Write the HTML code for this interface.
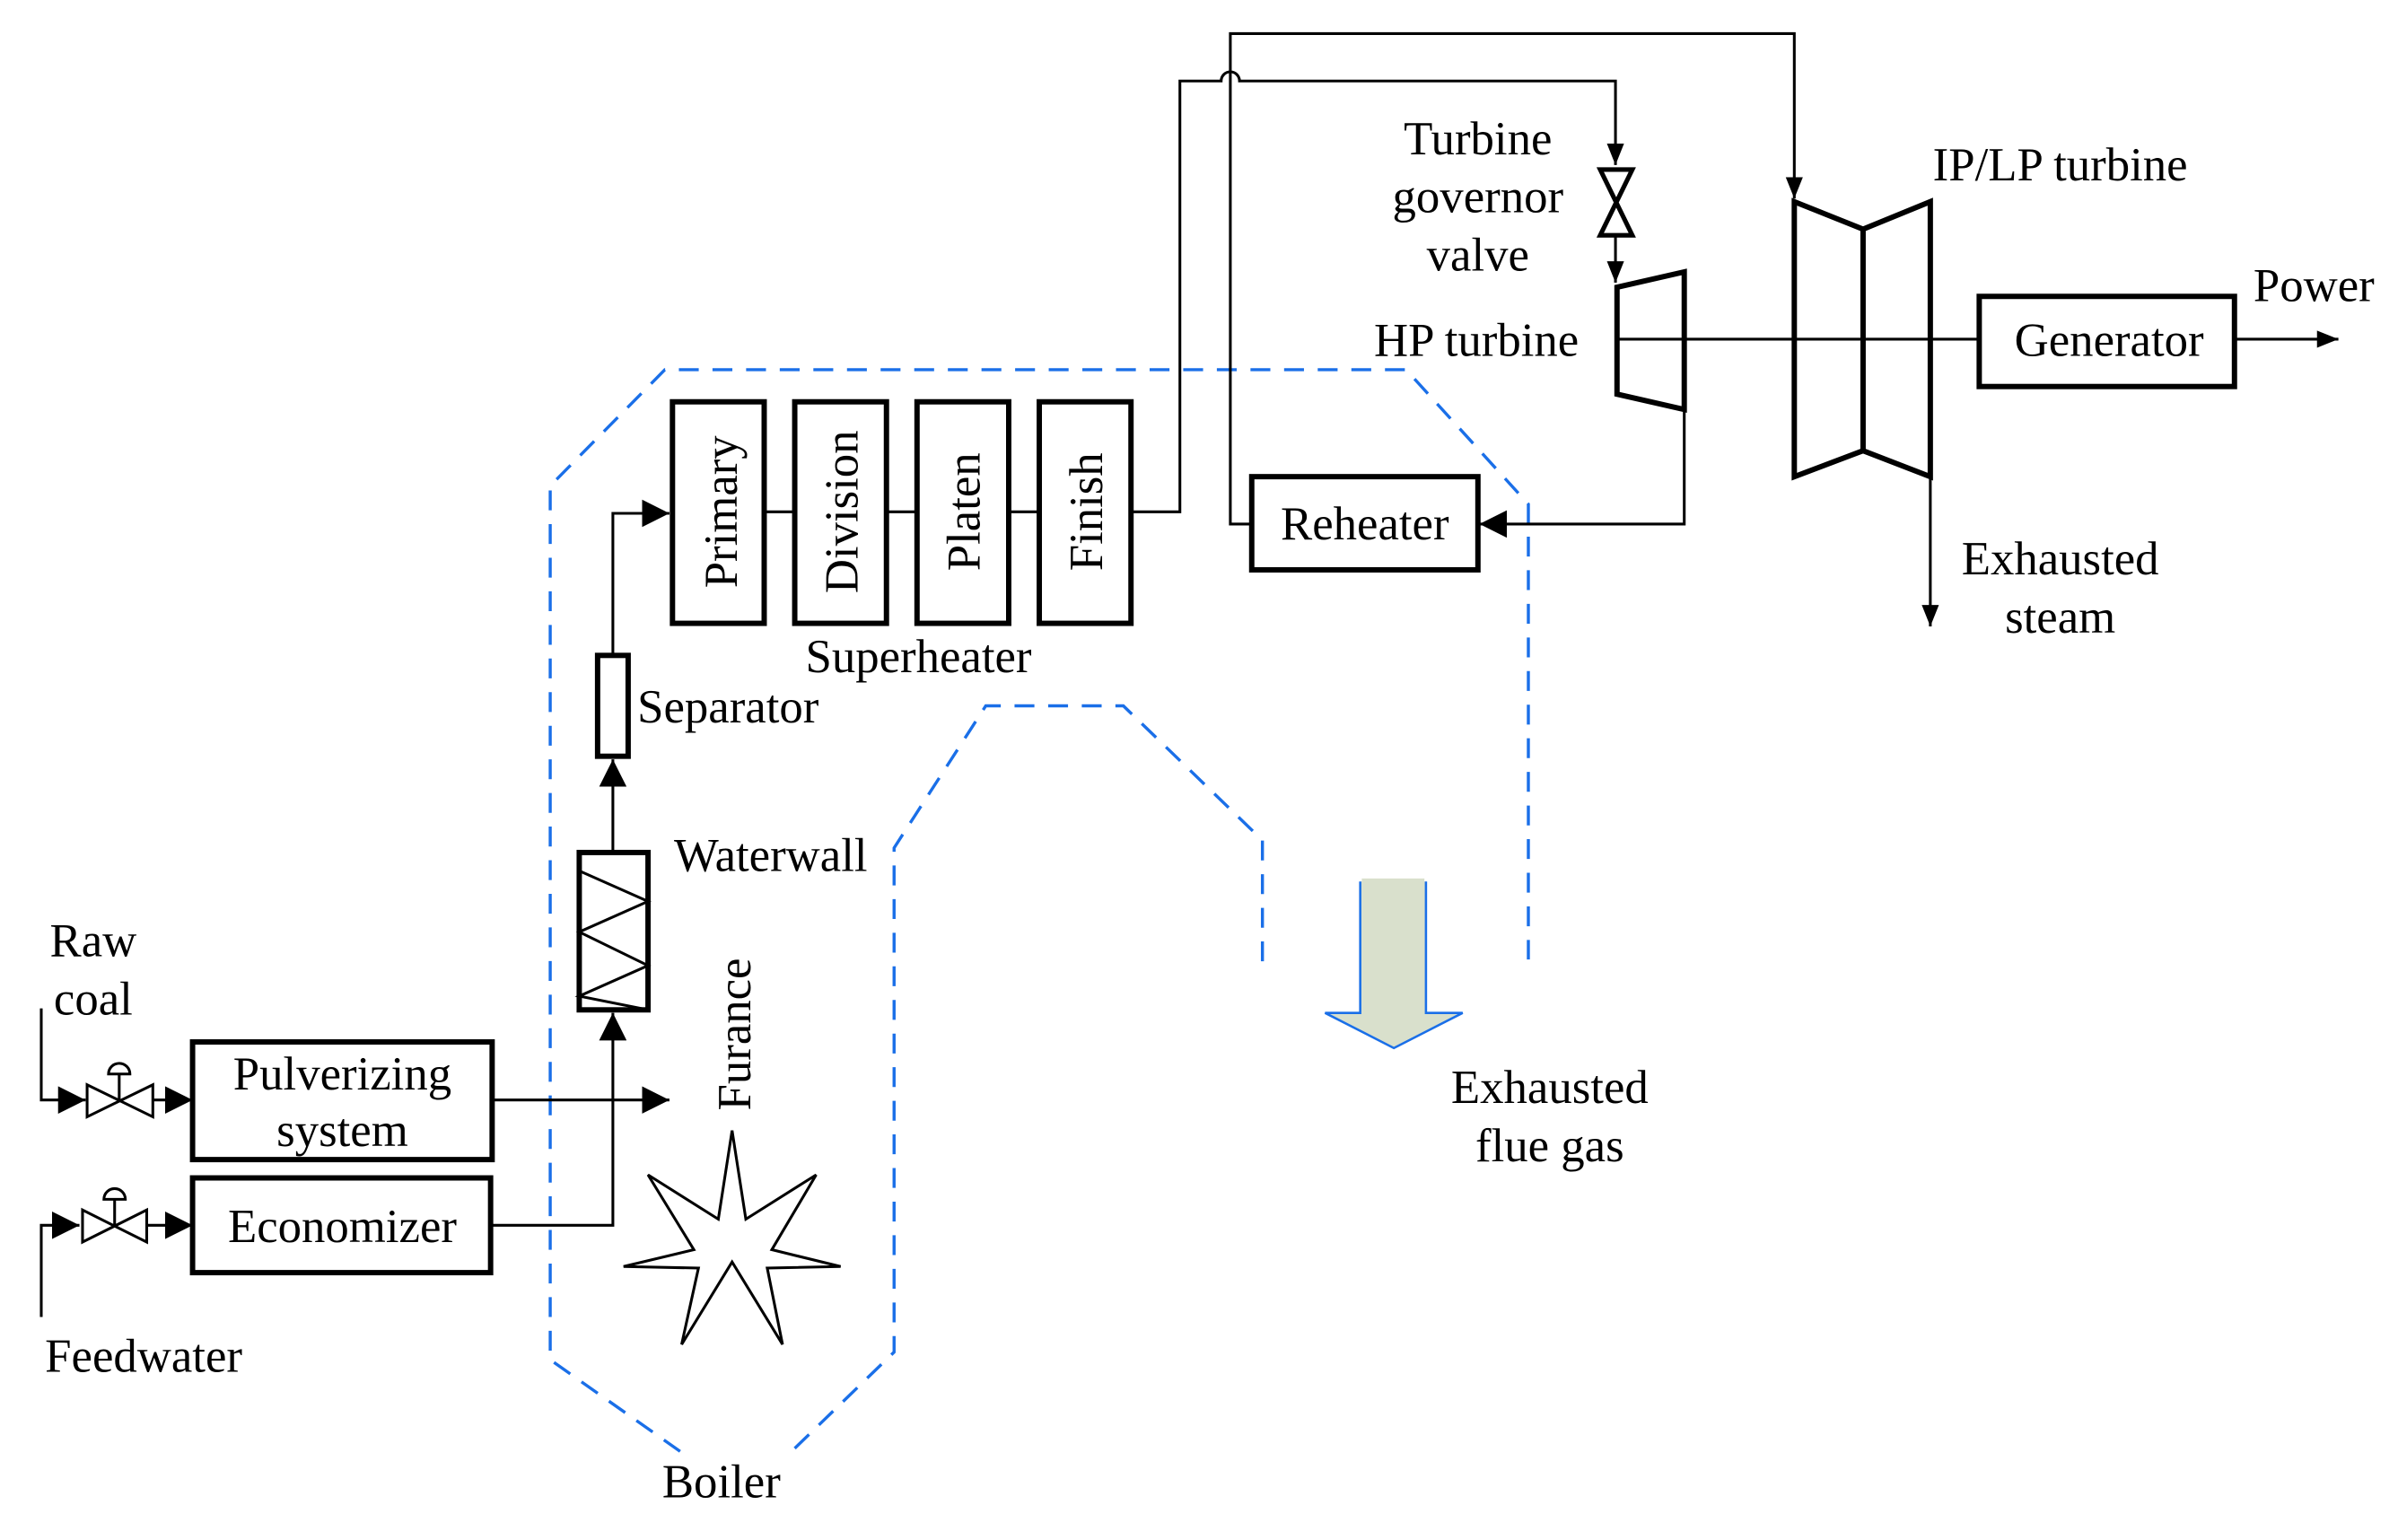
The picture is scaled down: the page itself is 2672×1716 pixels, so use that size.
<!DOCTYPE html>
<html><head><meta charset="utf-8"><style>html,body{margin:0;padding:0;background:#fff}svg{display:block}</style></head>
<body>
<svg width="2672" height="1716" viewBox="0 0 1569 1008" preserveAspectRatio="none" xmlns="http://www.w3.org/2000/svg" font-family="Liberation Serif, serif" font-size="31">
<defs>
<marker id="b" viewBox="0 0 10 10" refX="10" refY="5" markerWidth="14" markerHeight="14" markerUnits="userSpaceOnUse" orient="auto"><path d="M0,1L10,5L0,9z"/></marker>
<marker id="c" viewBox="0 0 10 10" refX="10" refY="5" markerWidth="18" markerHeight="18" markerUnits="userSpaceOnUse" orient="auto"><path d="M0,0L10,5L0,10z"/></marker>
</defs>
<g fill="none" stroke="#1a6fe8" stroke-width="2" stroke-dasharray="13,9">
<path d="M445,950 L360,890 L360,318 L435,242 L920,242 L1000,330 L1000,628"/>
<path d="M520,948 L585,885 L585,555 L645,462 L735,462 L826,550 L826,630"/>
</g>
<path d="M890,577 L890,663 L867,663 L912,686 L957,663 L933,663 L933,577" fill="#d9e0cc" stroke="#1a6fe8" stroke-width="1.5"/>
<rect x="891" y="575" width="41" height="5" fill="#d9e0cc"/>
<g fill="none" stroke="#000" stroke-width="3.5">
<rect x="440" y="263" width="60" height="145"/>
<rect x="520" y="263" width="60" height="145"/>
<rect x="600" y="263" width="60" height="145"/>
<rect x="680" y="263" width="60" height="145"/>
<rect x="819" y="312" width="148" height="61"/>
<rect x="1295" y="194" width="167" height="59"/>
<rect x="126" y="682" width="196" height="77"/>
<rect x="126" y="771" width="195" height="62"/>
<rect x="391" y="429" width="20" height="66"/>
<rect x="379" y="558" width="45" height="103"/>
<path d="M1058,188 L1102,178 L1102,268 L1058,258 Z"/>
<path d="M1174,132 L1219,150 L1263,132 L1263,312 L1219,295 L1174,312 Z M1219,150 L1219,295"/>
</g>
<g fill="none" stroke="#000" stroke-width="1.8">
<path d="M379,570 L424,590 L379,610 L424,632 L379,652 L424,661"/>
<path d="M500,335H520M580,335H600M660,335H680"/>
<path d="M740,335H772V53H799A6,6 0 0 1 811,53H1057V108" marker-end="url(#b)"/>
<path d="M1057,155V185" marker-end="url(#b)"/>
<path d="M819,343H805V22H1174V130" marker-end="url(#b)"/>
<path d="M1058,222H1295"/>
<path d="M1462,222H1530" marker-end="url(#b)"/>
<path d="M1263,312V410" marker-end="url(#b)"/>
<path d="M1102,268V343H968" marker-end="url(#c)"/>
<path d="M401,428V336H438" marker-end="url(#c)"/>
<path d="M401,557V497" marker-end="url(#c)"/>
<path d="M321,802H401V663" marker-end="url(#c)"/>
<path d="M322,720H438" marker-end="url(#c)"/>
<path d="M27,660V720H56" marker-end="url(#c)"/>
<path d="M100,720H126" marker-end="url(#c)"/>
<path d="M27,862V802H52" marker-end="url(#c)"/>
<path d="M96,802H126" marker-end="url(#c)"/>
<path d="M57,710L100,731V710L57,731Z M78,720V703 M71,703A7,7 0 0 1 85,703Z"/>
<path d="M54,792L96,813V792L54,813Z M75,802V785 M68,785A7,7 0 0 1 82,785Z"/>
<path d="M1047,111H1068L1047,154H1068Z" stroke-width="3"/>
<path d="M479,740 L488,798 L534,769 L505,818 L550,829 L502,830 L512,880 L479,826 L446,880 L457,830 L408,829 L454,818 L424,769 L470,798 Z"/>
</g>
<g fill="#000">
<text x="967" y="101" text-anchor="middle">Turbine</text>
<text x="967" y="139" text-anchor="middle">governor</text>
<text x="967" y="177" text-anchor="middle">valve</text>
<text x="966" y="233" text-anchor="middle">HP turbine</text>
<text x="1348" y="118" text-anchor="middle">IP/LP turbine</text>
<text x="1514" y="197" text-anchor="middle">Power</text>
<text x="1380" y="233" text-anchor="middle">Generator</text>
<text x="1348" y="376" text-anchor="middle">Exhausted</text>
<text x="1348" y="414" text-anchor="middle">steam</text>
<text x="893" y="353" text-anchor="middle">Reheater</text>
<text x="601" y="440" text-anchor="middle">Superheater</text>
<text x="417" y="473">Separator</text>
<text x="441" y="570">Waterwall</text>
<text x="61" y="626" text-anchor="middle">Raw</text>
<text x="61" y="664" text-anchor="middle">coal</text>
<text x="224" y="713" text-anchor="middle">Pulverizing</text>
<text x="224" y="750" text-anchor="middle">system</text>
<text x="224" y="813" text-anchor="middle">Economizer</text>
<text x="94" y="898" text-anchor="middle">Feedwater</text>
<text x="472" y="980" text-anchor="middle">Boiler</text>
<text x="1014" y="722" text-anchor="middle">Exhausted</text>
<text x="1014" y="760" text-anchor="middle">flue gas</text>
<text transform="translate(491,677) rotate(-90)" text-anchor="middle">Furance</text>
<text transform="translate(482,335) rotate(-90)" text-anchor="middle">Primary</text>
<text transform="translate(561,335) rotate(-90)" text-anchor="middle">Division</text>
<text transform="translate(641,335) rotate(-90)" text-anchor="middle">Platen</text>
<text transform="translate(721,335) rotate(-90)" text-anchor="middle">Finish</text>
</g>
</svg>
</body></html>
